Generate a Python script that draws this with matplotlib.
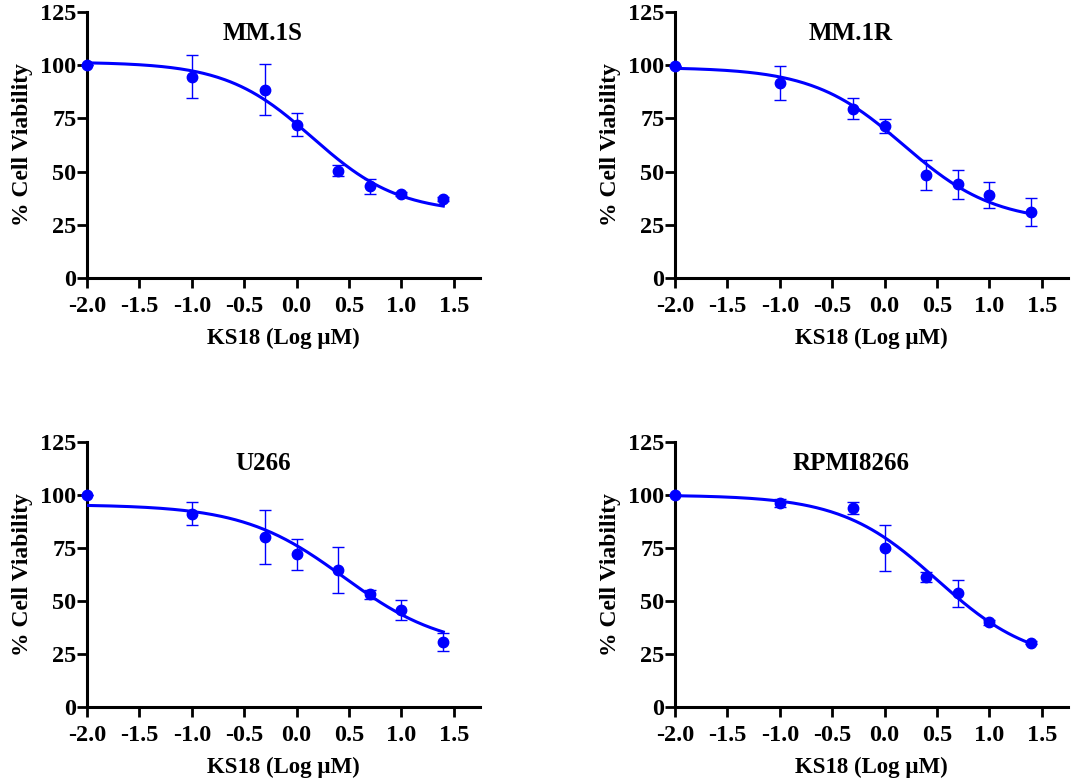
import numpy as np
import matplotlib
matplotlib.use("Agg")
import matplotlib.pyplot as plt

plt.rcParams['font.family'] = ['Liberation Serif', 'DejaVu Serif']
plt.rcParams['font.weight'] = 'bold'
plt.rcParams['axes.unicode_minus'] = False

# log10 of KS18 dose (uM): 0.01, 0.1, 0.5, 1, 2.5, 5, 10, 25
log_dose = [-2.0, -1.0, -0.301, 0.0, 0.398, 0.699, 1.0, 1.398]

titles = ["MM.1S", "MM.1R", "U266", "RPMI8266"]

mm1s_mean = [100.0, 94.6, 88.5, 72.0, 50.5, 43.0, 39.5, 37.0]
mm1s_sd = [0.0, 10.0, 12.0, 5.5, 2.8, 3.5, 1.0, 1.0]

mm1r_mean = [99.8, 91.5, 79.6, 71.3, 48.4, 44.0, 39.0, 30.9]
mm1r_sd = [0.0, 8.0, 5.0, 3.2, 7.0, 6.7, 6.2, 6.6]

u266_mean = [100.0, 91.2, 80.3, 72.0, 64.5, 53.1, 45.9, 30.5]
u266_sd = [0.0, 5.5, 12.8, 7.3, 10.8, 2.0, 4.7, 4.3]

rpmi_mean = [100.0, 96.2, 93.9, 75.0, 61.3, 53.6, 39.9, 30.3]
rpmi_sd = [0.0, 2.0, 2.7, 10.8, 2.2, 6.5, 1.0, 0.8]

means = [mm1s_mean, mm1r_mean, u266_mean, rpmi_mean]
sds = [mm1s_sd, mm1r_sd, u266_sd, rpmi_sd]

# 4PL fit parameters: top, bottom, logIC50, hill
fits = [
    (101.5, 30.5, 0.15, 1.05),
    (99.0, 26.0, 0.18, 1.00),
    (95.5, 27.0, 0.45, 0.90),
    (100.0, 20.0, 0.50, 0.95),
]

# axes boxes in pixels: left, right, top, bottom (figure 1071x784)
W, H = 1071, 784
boxes = [
    (87, 480, 12, 278),
    (675, 1068, 12, 278),
    (87, 480, 442, 707),
    (675, 1068, 442, 707),
]

blue = '#0000FF'
fig = plt.figure(figsize=(W / 100, H / 100), dpi=100)

for i in range(4):
    l, r, t, b = boxes[i]
    ax = fig.add_axes([l / W, 1 - b / H, (r - l) / W, (b - t) / H])

    top, bot, ic, hill = fits[i]
    xs = np.linspace(-2.0, 1.4, 200)
    ys = bot + (top - bot) / (1 + 10 ** ((xs - ic) * hill))
    ax.plot(xs, ys, color=blue, lw=2.2, zorder=3)

    ax.errorbar(log_dose, means[i], yerr=sds[i], fmt='o', color=blue,
                ms=7.5, elinewidth=1.0, capsize=4.3, capthick=1.0,
                zorder=4, clip_on=False)

    ax.set_xlim(-2.0, 1.75)
    ax.set_ylim(0, 125)
    ax.set_xticks([-2.0, -1.5, -1.0, -0.5, 0.0, 0.5, 1.0, 1.5])
    ax.set_xticklabels(['%.1f' % v for v in [-2.0, -1.5, -1.0, -0.5, 0.0, 0.5, 1.0, 1.5]])
    ax.set_yticks([0, 25, 50, 75, 100, 125])

    for s in ['top', 'right']:
        ax.spines[s].set_visible(False)
    for s in ['left', 'bottom']:
        ax.spines[s].set_linewidth(2.2)
    ax.tick_params(axis='both', width=2.0, length=7, labelsize=17.5)
    ax.tick_params(axis='y', pad=0.5)
    ax.tick_params(axis='x', pad=6)

    ax.set_xlabel("KS18 (Log µM)", fontsize=16.5, fontweight='bold', labelpad=8)
    ax.set_ylabel("% Cell Viability", fontsize=17, fontweight='bold', labelpad=5)
    ax.text(0.448, 0.92, titles[i], transform=ax.transAxes, ha='center',
            va='center', fontsize=18, fontweight='bold')

fig.savefig("out.png", dpi=100)
